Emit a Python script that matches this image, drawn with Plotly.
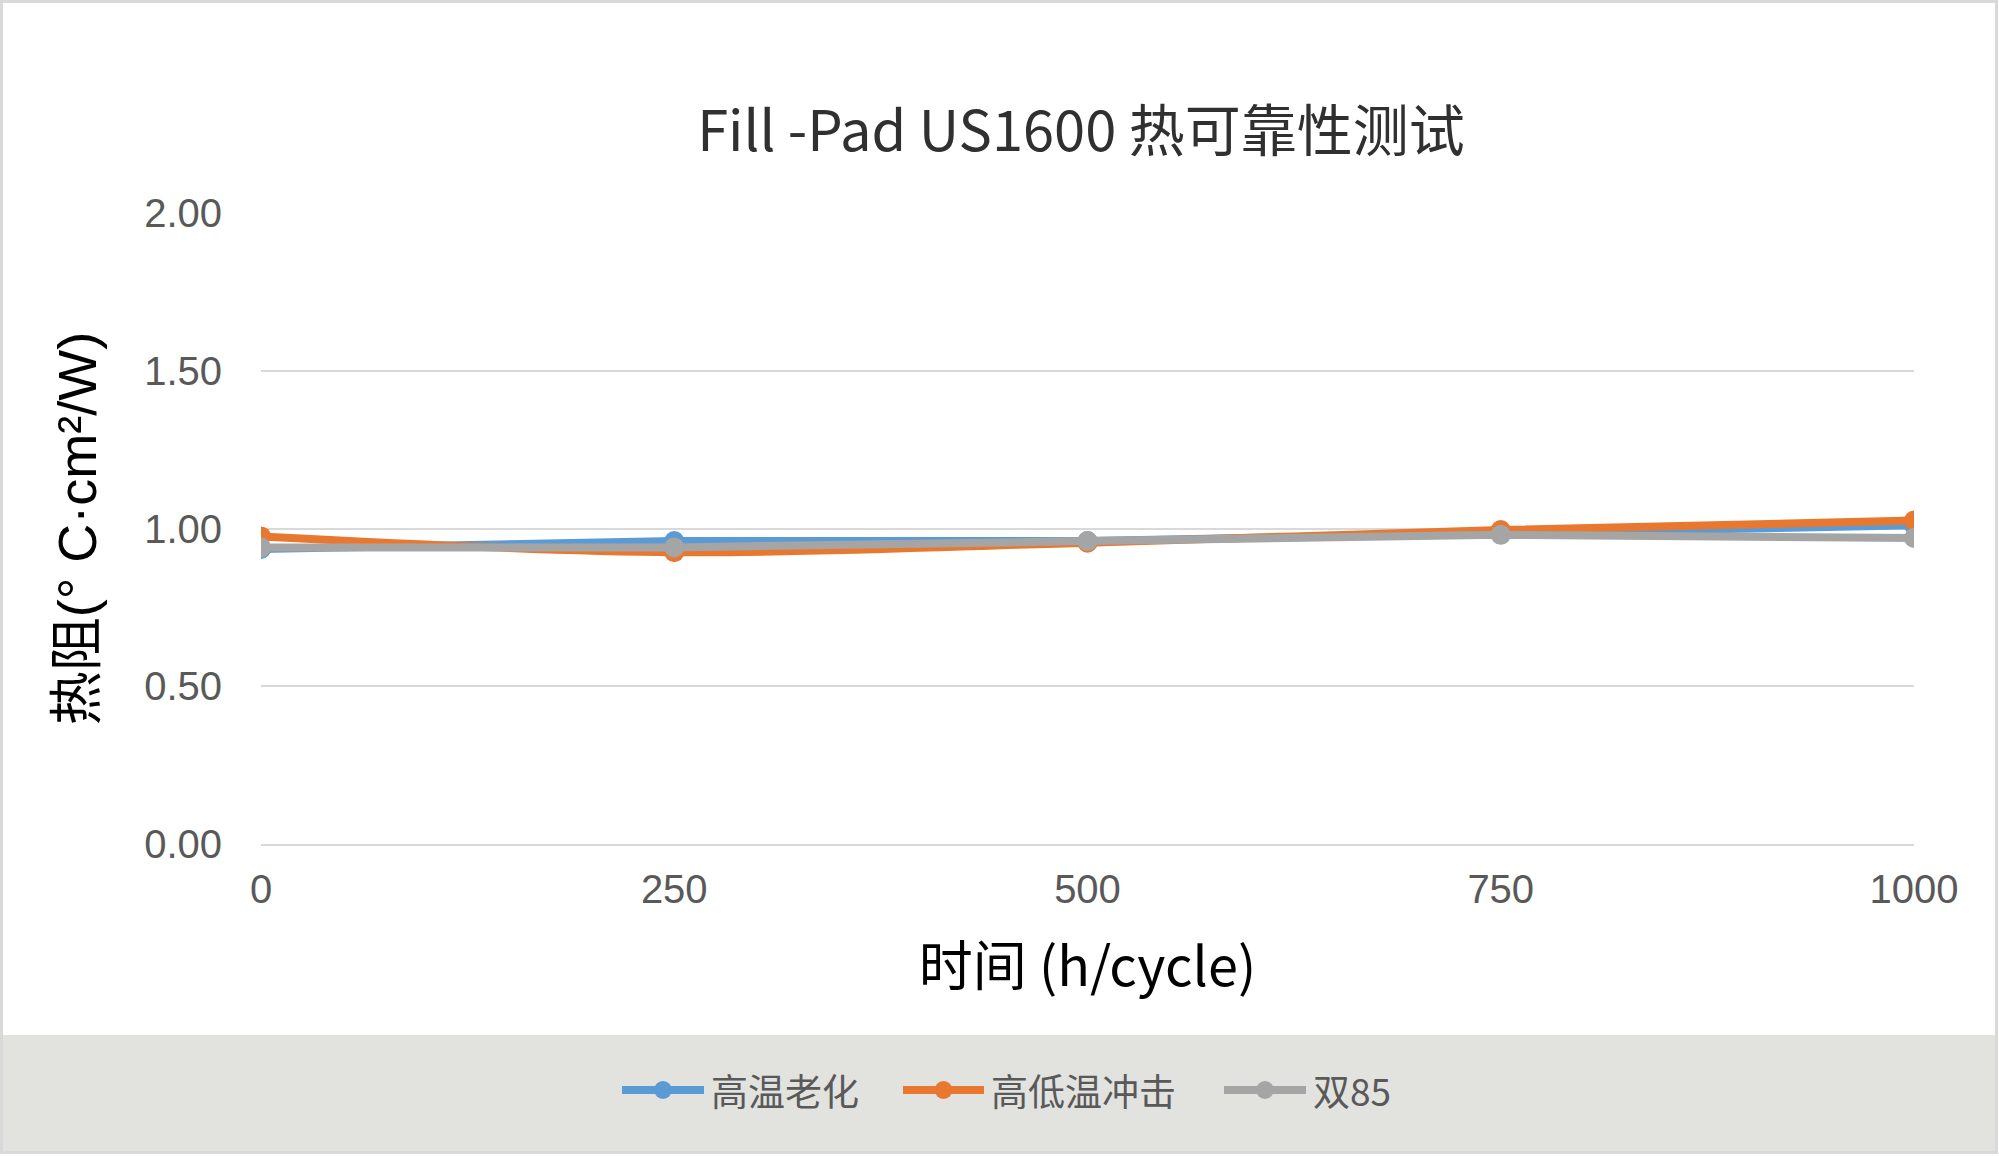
import plotly.graph_objects as go

x_vals = [0, 250, 500, 750, 1000]
series_names = ["高温老化", "高低温冲击", "双85"]
high_temp_aging = [0.935, 0.96, 0.96, 0.985, 1.01]
thermal_shock = [0.975, 0.925, 0.955, 0.995, 1.025]
damp_heat_85 = [0.94, 0.94, 0.96, 0.98, 0.97]
y_ticks = [0.0, 0.5, 1.0, 1.5, 2.0]
x_ticks = [0, 250, 500, 750, 1000]

colors = ["#5B9BD5", "#E8782F", "#A5A5A5"]
shapes_line = ["linear", "spline", "linear"]

W, H = 1999, 1157
L, R, T, B = 261, 85, 213, 313
pw, ph = W - L - R, H - T - B

def px_x(p):
    return (p - L) / pw

def px_y(p):
    return (H - B - p) / ph

fig = go.Figure()
for name, ys, c, sh in zip(series_names, [high_temp_aging, thermal_shock, damp_heat_85], colors, shapes_line):
    fig.add_trace(go.Scatter(
        x=x_vals, y=ys, name=name, mode="lines+markers",
        line=dict(color=c, width=8, shape=sh, smoothing=1.0),
        marker=dict(color=c, size=20),
        showlegend=False,
    ))

# custom legend (line sample + marker + label), positions in pixels
legend_items = [
    (series_names[0], colors[0], 622, 704, 709),
    (series_names[1], colors[1], 903, 984, 989),
    (series_names[2], colors[2], 1224, 1306, 1311),
]
leg_y = 1090
shapes = [
    dict(type="rect", xref="paper", yref="paper", x0=px_x(2), x1=px_x(1995),
         y0=px_y(1151), y1=px_y(1035), fillcolor="#E2E2DF", line=dict(width=0), layer="below"),
    dict(type="rect", xref="paper", yref="paper", x0=px_x(1.5), x1=px_x(1996.5),
         y0=px_y(1152.5), y1=px_y(1.5), fillcolor="rgba(0,0,0,0)",
         line=dict(color="#D9D9D9", width=3), layer="below"),
]
annotations = []
for name, c, lx0, lx1, tx in legend_items:
    shapes.append(dict(type="line", xref="paper", yref="paper", x0=px_x(lx0), x1=px_x(lx1),
                       y0=px_y(leg_y), y1=px_y(leg_y), line=dict(color=c, width=8)))
    cx = (lx0 + lx1) / 2
    r = 9
    shapes.append(dict(type="circle", xref="paper", yref="paper", x0=px_x(cx - r), x1=px_x(cx + r),
                       y0=px_y(leg_y + r), y1=px_y(leg_y - r), fillcolor=c, line=dict(width=0)))
    annotations.append(dict(text=name, xref="paper", yref="paper", x=px_x(tx), y=px_y(leg_y),
                            xanchor="left", yanchor="middle", showarrow=False,
                            font=dict(family="Noto Sans CJK SC", size=37, color="#595959")))

fig.update_layout(
    width=W, height=H,
    margin=dict(l=L, r=R, t=T, b=B),
    paper_bgcolor="white", plot_bgcolor="white",
    title=dict(text="Fill -Pad US1600 热可靠性测试", x=1081 / W, xanchor="center",
               y=1 - 131 / H, yanchor="middle",
               font=dict(family="Noto Sans CJK SC", size=56, color="#303030")),
    showlegend=False,
    shapes=shapes,
    annotations=annotations,
)

fig.update_xaxes(
    range=[0, 1000], tickvals=x_ticks, ticktext=[str(v) for v in x_ticks],
    showgrid=False, zeroline=False, showline=True, linecolor="#D9D9D9", linewidth=2,
    ticks="", ticklabelstandoff=9,
    tickfont=dict(family="Liberation Sans", size=40, color="#595959"),
    title=dict(text="时间 (h/cycle)", standoff=38,
               font=dict(family="Noto Sans CJK SC", size=54, color="#000000")),
)
fig.update_yaxes(
    range=[0, 2.0], tickvals=y_ticks, ticktext=[f"{v:.2f}" for v in y_ticks],
    showgrid=True, gridcolor="#D9D9D9", gridwidth=2, zeroline=False, showline=False,
    ticks="", ticklabelstandoff=38,
    tickfont=dict(family="Liberation Sans", size=40, color="#595959"),
    title=dict(text="热阻(° C·cm²/W)", standoff=30,
               font=dict(family="Liberation Sans, Noto Sans CJK SC", size=54, color="#000000")),
)

fig.write_html("out.html")
